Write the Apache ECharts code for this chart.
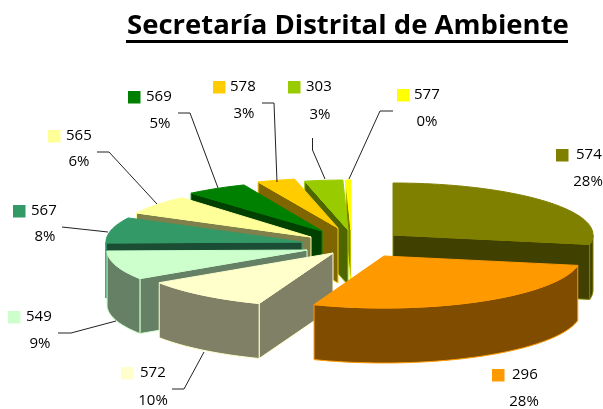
<!DOCTYPE html>
<html>
<head>
<meta charset="utf-8">
<style>html,body{margin:0;padding:0;background:#fff}#c{width:603px;height:409px}</style>
<script src="https://cdn.jsdelivr.net/npm/echarts@6/dist/echarts.min.js"></script>
</head>
<body>
<div id="c"></div>
<script>
// ---- data ----
var titleText = 'Secretaría Distrital de Ambiente';
var categories = ['574', '296', '572', '549', '567', '565', '569', '578', '303', '577'];
var shares = [28, 28, 10, 9, 8, 6, 5, 3, 3, 0.4];

// ---- styling ----
var topColors = ['#808000', '#FF9900', '#FFFFCC', '#CCFFCC', '#339966', '#FFFF99', '#008000', '#FFCC00', '#99CC00', '#FFFF00'];
var wallColors = ['#404000', '#804D00', '#808066', '#668066', '#1A4D33', '#80804D', '#004000', '#806600', '#4D6600', '#808000'];

// ---- pie layout (centre, explosion of each slice, projected radii) ----
var pieCentre = [345, 240];
var explodeX = [48, 39, -12, -38, -43, -34, -23, -7, 3, 6];
var explodeY = [-5, 16, 13, 10, 2, -3, -9, -12, -10, -10];
var radiusX = [200, 197, 208, 200, 196, 197, 200, 205, 205, 205];
var radiusY = [52, 52, 54, 52, 52, 52, 50, 50, 50, 50];
var pieDepth = 55;
var paintOrder = [9, 8, 7, 6, 5, 4, 3, 0, 2, 1];

// ---- label layout ----
var keyBoxX = [556, 492, 121, 8, 13, 48, 128, 213, 288, 397];
var keyBoxY = [149, 369, 367, 311, 205, 130, 91, 81, 81, 89];
var nameX = [576, 512, 140, 26, 31, 66, 146, 230, 306, 414];
var percentCx = [588, 524, 153, 40, 45, 79, 160, 244, 320, 427];
var percentCy = [182, 402, 401, 344, 237, 162, 124, 114, 115, 122];
var leaders = [
  null, null,
  [[172, 389], [184, 389], [204, 352]],
  [[58, 333], [71, 333], [116, 321]],
  [[62, 227], [108, 232]],
  [[97, 152], [109, 152], [157, 204]],
  [[178, 113], [190, 113], [218, 188]],
  [[262, 103], [274, 103], [277, 182]],
  [[312.5, 138], [312.5, 150], [325, 179]],
  [[393, 111], [380, 111], [349, 179]]
];

var FONT = '"Open Sans", sans-serif';
var total = shares.reduce(function (a, b) { return a + b; }, 0);
var startAngles = [];
shares.reduce(function (acc, v, i) { startAngles[i] = acc; return acc + v / total * 360; }, 0);

function rad(d) { return d * Math.PI / 180; }

function renderSlice(params, api) {
  var i = api.value(0);
  var a0 = startAngles[i];
  var a1 = a0 + api.value(1) / total * 360;
  var ox = pieCentre[0] + explodeX[i];
  var oy = pieCentre[1] + explodeY[i];
  function pt(a, d) {
    return [ox + radiusX[i] * Math.sin(rad(a)), oy - radiusY[i] * Math.cos(rad(a)) + (d || 0)];
  }
  function arc(from, to, d) {
    var n = Math.max(2, Math.ceil(Math.abs(to - from) / 1.5));
    var out = [];
    for (var k = 0; k <= n; k++) out.push(pt(from + (to - from) * k / n, d));
    return out;
  }
  var children = [];
  function poly(points, fill) {
    children.push({
      type: 'polygon',
      shape: { points: points },
      style: { fill: fill, stroke: topColors[i], lineWidth: 1, lineJoin: 'round' }
    });
  }
  var apexTop = [ox, oy], apexBottom = [ox, oy + pieDepth];
  if (Math.sin(rad(a0)) < 0) {
    poly([apexTop, pt(a0), pt(a0, pieDepth), apexBottom], wallColors[i]);
  }
  if (Math.sin(rad(a1)) > 0) {
    poly([apexTop, pt(a1), pt(a1, pieDepth), apexBottom], wallColors[i]);
  }
  var lo = Math.max(a0, 90), hi = Math.min(a1, 270);
  if (lo < hi) {
    poly(arc(lo, hi, 0).concat(arc(hi, lo, pieDepth)), wallColors[i]);
  }
  poly([apexTop].concat(arc(a0, a1, 0)), topColors[i]);
  return { type: 'group', children: children };
}

function renderLabel(params, api) {
  var i = api.value(0);
  var children = [];
  if (leaders[i]) {
    children.push({
      type: 'polyline',
      shape: { points: leaders[i] },
      style: { fill: null, stroke: '#222222', lineWidth: 1 }
    });
  }
  children.push({
    type: 'rect',
    shape: { x: keyBoxX[i], y: keyBoxY[i], width: 12.5, height: 12.5 },
    style: { fill: topColors[i] }
  });
  children.push({
    type: 'text',
    style: {
      x: nameX[i], y: keyBoxY[i] + 6, text: categories[i], fill: '#000',
      font: '15px ' + FONT, align: 'left', verticalAlign: 'middle'
    }
  });
  children.push({
    type: 'text',
    style: {
      x: percentCx[i], y: percentCy[i], text: Math.round(api.value(1)) + '%', fill: '#000',
      font: '15px ' + FONT, align: 'center', verticalAlign: 'middle'
    }
  });
  return { type: 'group', children: children };
}

var chart = echarts.init(document.getElementById('c'), null, { renderer: 'canvas' });
var sliceRows = paintOrder.map(function (i) { return [i, shares[i]]; });
var labelRows = categories.map(function (c, i) { return [i, shares[i]]; });

chart.setOption({
  animation: false,
  backgroundColor: '#ffffff',
  title: {
    text: titleText,
    left: 127, top: 7,
    padding: 0,
    textStyle: { fontFamily: '"Open Sans", sans-serif', fontSize: 27.5, fontWeight: 'bold', color: '#000', lineHeight: 38 }
  },
  graphic: [{
    type: 'rect',
    shape: { x: 126, y: 40, width: 442, height: 3 },
    style: { fill: '#000' }
  }],
  series: [
    {
      type: 'custom', coordinateSystem: 'none', renderItem: renderSlice,
      data: sliceRows, silent: true, clip: false
    },
    {
      type: 'custom', coordinateSystem: 'none', renderItem: renderLabel,
      data: labelRows, silent: true, clip: false, z: 5
    }
  ]
});
</script>
</body>
</html>
